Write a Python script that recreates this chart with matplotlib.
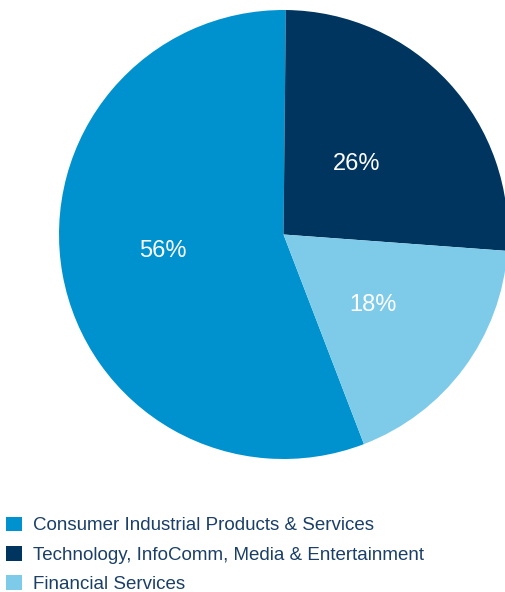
import numpy as np
import matplotlib.pyplot as plt
from matplotlib.patches import Patch

plt.rcParams['font.family'] = ['Liberation Sans', 'DejaVu Sans']

# Sector split of the portfolio
sectors = ['Consumer Industrial Products & Services',
           'Technology, InfoComm, Media & Entertainment',
           'Financial Services']
shares = [56, 26, 18]
colours = ['#0092CF', '#00355F', '#7ECBE9']

# where each percentage sits inside its wedge (radius fraction, angle in deg)
label_pos = [(0.54, 186.4), (0.46, 45.0), (0.50, -37.4)]

W, H = 505, 592
fig = plt.figure(figsize=(W / 100, H / 100), dpi=100)

# pie axes placed in pixel terms: centre (283.5, 234.5), radius 224.5
R = 224.5
cx, cy = 283.5, 234.5
ax = fig.add_axes([(cx - R) / W, (H - cy - R) / H, 2 * R / W, 2 * R / H])
wedges, _ = ax.pie(shares, colors=colours, startangle=291, counterclock=False,
                   radius=1, wedgeprops=dict(linewidth=0))
ax.set_xlim(-1, 1)
ax.set_ylim(-1, 1)
ax.set_aspect('auto')
ax.axis('off')

for v, (d, ang) in zip(shares, label_pos):
    a = np.deg2rad(ang)
    ax.text(d * np.cos(a), d * np.sin(a), f'{v}%', color='white',
            fontsize=17, ha='center', va='center_baseline')

handles = [Patch(facecolor=c, edgecolor='none') for c in colours]
fig.legend(handles, sectors, loc='upper left',
           bbox_to_anchor=(6 / W, 1 - 516.5 / H), frameon=False,
           fontsize=13.5, labelcolor='#1B3F66', borderpad=0, borderaxespad=0,
           handlelength=0.85, handleheight=0.85, handletextpad=0.6,
           labelspacing=0.61)

fig.savefig('out.png', dpi=100)
